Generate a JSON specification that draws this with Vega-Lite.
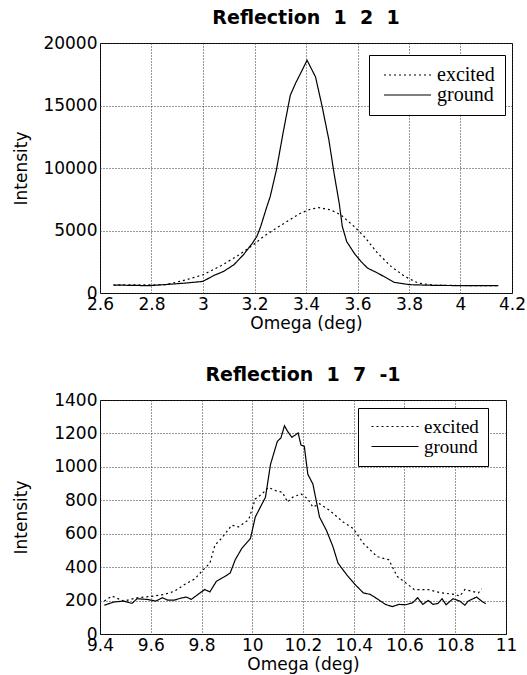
{
  "$schema": "https://vega.github.io/schema/vega-lite/v6.json",
  "background": "white",
  "padding": {"left": 12, "top": 8, "right": 6, "bottom": 2},
  "config": {
    "view": {"stroke": "black", "strokeWidth": 1},
    "font": "DejaVu Sans",
    "axis": {
      "grid": true, "gridColor": "#333", "gridDash": [1, 2], "gridOpacity": 1, "gridWidth": 1,
      "ticks": false, "domain": false, "labelFlush": false, "labelOverlap": false,
      "labelFont": "DejaVu Sans", "labelFontSize": 17, "labelColor": "black", "labelPadding": 3,
      "titleFont": "DejaVu Sans", "titleFontSize": 17, "titleFontWeight": "normal", "titleColor": "black"
    },
    "title": {"font": "DejaVu Sans", "fontSize": 19, "fontWeight": "bold", "color": "black", "offset": 6},
    "concat": {"spacing": 33}
  },
  "datasets": {
    "top": [
      {"omega": 2.652, "intensity": 638, "series": "ground"},
      {"omega": 2.79, "intensity": 585, "series": "ground"},
      {"omega": 2.883, "intensity": 718, "series": "ground"},
      {"omega": 2.935, "intensity": 800, "series": "ground"},
      {"omega": 3.0, "intensity": 930, "series": "ground"},
      {"omega": 3.04, "intensity": 1380, "series": "ground"},
      {"omega": 3.08, "intensity": 1730, "series": "ground"},
      {"omega": 3.12, "intensity": 2260, "series": "ground"},
      {"omega": 3.157, "intensity": 3060, "series": "ground"},
      {"omega": 3.192, "intensity": 3990, "series": "ground"},
      {"omega": 3.209, "intensity": 4520, "series": "ground"},
      {"omega": 3.224, "intensity": 5320, "series": "ground"},
      {"omega": 3.248, "intensity": 6910, "series": "ground"},
      {"omega": 3.261, "intensity": 7710, "series": "ground"},
      {"omega": 3.285, "intensity": 9840, "series": "ground"},
      {"omega": 3.313, "intensity": 13030, "series": "ground"},
      {"omega": 3.339, "intensity": 15820, "series": "ground"},
      {"omega": 3.359, "intensity": 16760, "series": "ground"},
      {"omega": 3.385, "intensity": 17820, "series": "ground"},
      {"omega": 3.404, "intensity": 18620, "series": "ground"},
      {"omega": 3.437, "intensity": 17290, "series": "ground"},
      {"omega": 3.463, "intensity": 14890, "series": "ground"},
      {"omega": 3.489, "intensity": 12230, "series": "ground"},
      {"omega": 3.509, "intensity": 9570, "series": "ground"},
      {"omega": 3.529, "intensity": 7180, "series": "ground"},
      {"omega": 3.541, "intensity": 5320, "series": "ground"},
      {"omega": 3.558, "intensity": 4120, "series": "ground"},
      {"omega": 3.587, "intensity": 3190, "series": "ground"},
      {"omega": 3.613, "intensity": 2530, "series": "ground"},
      {"omega": 3.639, "intensity": 1990, "series": "ground"},
      {"omega": 3.678, "intensity": 1600, "series": "ground"},
      {"omega": 3.743, "intensity": 850, "series": "ground"},
      {"omega": 3.802, "intensity": 665, "series": "ground"},
      {"omega": 3.848, "intensity": 640, "series": "ground"},
      {"omega": 3.9, "intensity": 610, "series": "ground"},
      {"omega": 4.03, "intensity": 585, "series": "ground"},
      {"omega": 4.147, "intensity": 585, "series": "ground"},
      {"omega": 2.652, "intensity": 640, "series": "excited"},
      {"omega": 2.857, "intensity": 665, "series": "excited"},
      {"omega": 2.935, "intensity": 1060, "series": "excited"},
      {"omega": 3.0, "intensity": 1460, "series": "excited"},
      {"omega": 3.065, "intensity": 2130, "series": "excited"},
      {"omega": 3.131, "intensity": 2930, "series": "excited"},
      {"omega": 3.196, "intensity": 3860, "series": "excited"},
      {"omega": 3.235, "intensity": 4520, "series": "excited"},
      {"omega": 3.274, "intensity": 5050, "series": "excited"},
      {"omega": 3.326, "intensity": 5720, "series": "excited"},
      {"omega": 3.378, "intensity": 6380, "series": "excited"},
      {"omega": 3.417, "intensity": 6700, "series": "excited"},
      {"omega": 3.45, "intensity": 6830, "series": "excited"},
      {"omega": 3.496, "intensity": 6650, "series": "excited"},
      {"omega": 3.535, "intensity": 6250, "series": "excited"},
      {"omega": 3.587, "intensity": 5320, "series": "excited"},
      {"omega": 3.626, "intensity": 4520, "series": "excited"},
      {"omega": 3.678, "intensity": 3190, "series": "excited"},
      {"omega": 3.73, "intensity": 2130, "series": "excited"},
      {"omega": 3.783, "intensity": 1330, "series": "excited"},
      {"omega": 3.835, "intensity": 800, "series": "excited"},
      {"omega": 3.9, "intensity": 610, "series": "excited"},
      {"omega": 4.147, "intensity": 585, "series": "excited"}
    ],
    "bottom": [
      {"omega": 9.417, "intensity": 172, "series": "ground"},
      {"omega": 9.453, "intensity": 191, "series": "ground"},
      {"omega": 9.493, "intensity": 197, "series": "ground"},
      {"omega": 9.526, "intensity": 183, "series": "ground"},
      {"omega": 9.546, "intensity": 211, "series": "ground"},
      {"omega": 9.586, "intensity": 207, "series": "ground"},
      {"omega": 9.62, "intensity": 197, "series": "ground"},
      {"omega": 9.646, "intensity": 217, "series": "ground"},
      {"omega": 9.666, "intensity": 203, "series": "ground"},
      {"omega": 9.693, "intensity": 203, "series": "ground"},
      {"omega": 9.72, "intensity": 215, "series": "ground"},
      {"omega": 9.74, "intensity": 221, "series": "ground"},
      {"omega": 9.76, "intensity": 207, "series": "ground"},
      {"omega": 9.786, "intensity": 237, "series": "ground"},
      {"omega": 9.813, "intensity": 266, "series": "ground"},
      {"omega": 9.833, "intensity": 252, "series": "ground"},
      {"omega": 9.859, "intensity": 316, "series": "ground"},
      {"omega": 9.893, "intensity": 345, "series": "ground"},
      {"omega": 9.913, "intensity": 365, "series": "ground"},
      {"omega": 9.933, "intensity": 444, "series": "ground"},
      {"omega": 9.959, "intensity": 513, "series": "ground"},
      {"omega": 9.993, "intensity": 572, "series": "ground"},
      {"omega": 10.012, "intensity": 700, "series": "ground"},
      {"omega": 10.032, "intensity": 759, "series": "ground"},
      {"omega": 10.052, "intensity": 818, "series": "ground"},
      {"omega": 10.072, "intensity": 1015, "series": "ground"},
      {"omega": 10.099, "intensity": 1153, "series": "ground"},
      {"omega": 10.113, "intensity": 1173, "series": "ground"},
      {"omega": 10.127, "intensity": 1246, "series": "ground"},
      {"omega": 10.139, "intensity": 1213, "series": "ground"},
      {"omega": 10.156, "intensity": 1177, "series": "ground"},
      {"omega": 10.172, "intensity": 1193, "series": "ground"},
      {"omega": 10.181, "intensity": 1203, "series": "ground"},
      {"omega": 10.192, "intensity": 1130, "series": "ground"},
      {"omega": 10.205, "intensity": 1124, "series": "ground"},
      {"omega": 10.219, "intensity": 956, "series": "ground"},
      {"omega": 10.239, "intensity": 897, "series": "ground"},
      {"omega": 10.265, "intensity": 700, "series": "ground"},
      {"omega": 10.292, "intensity": 621, "series": "ground"},
      {"omega": 10.318, "intensity": 523, "series": "ground"},
      {"omega": 10.338, "intensity": 424, "series": "ground"},
      {"omega": 10.372, "intensity": 355, "series": "ground"},
      {"omega": 10.405, "intensity": 296, "series": "ground"},
      {"omega": 10.438, "intensity": 246, "series": "ground"},
      {"omega": 10.465, "intensity": 237, "series": "ground"},
      {"omega": 10.492, "intensity": 211, "series": "ground"},
      {"omega": 10.525, "intensity": 177, "series": "ground"},
      {"omega": 10.552, "intensity": 164, "series": "ground"},
      {"omega": 10.578, "intensity": 177, "series": "ground"},
      {"omega": 10.605, "intensity": 175, "series": "ground"},
      {"omega": 10.632, "intensity": 187, "series": "ground"},
      {"omega": 10.652, "intensity": 217, "series": "ground"},
      {"omega": 10.672, "intensity": 177, "series": "ground"},
      {"omega": 10.694, "intensity": 201, "series": "ground"},
      {"omega": 10.712, "intensity": 177, "series": "ground"},
      {"omega": 10.732, "intensity": 183, "series": "ground"},
      {"omega": 10.748, "intensity": 211, "series": "ground"},
      {"omega": 10.764, "intensity": 175, "series": "ground"},
      {"omega": 10.791, "intensity": 211, "series": "ground"},
      {"omega": 10.818, "intensity": 197, "series": "ground"},
      {"omega": 10.838, "intensity": 172, "series": "ground"},
      {"omega": 10.851, "intensity": 197, "series": "ground"},
      {"omega": 10.884, "intensity": 221, "series": "ground"},
      {"omega": 10.904, "intensity": 197, "series": "ground"},
      {"omega": 10.92, "intensity": 181, "series": "ground"},
      {"omega": 9.417, "intensity": 197, "series": "excited"},
      {"omega": 9.447, "intensity": 227, "series": "excited"},
      {"omega": 9.493, "intensity": 197, "series": "excited"},
      {"omega": 9.546, "intensity": 217, "series": "excited"},
      {"omega": 9.613, "intensity": 227, "series": "excited"},
      {"omega": 9.653, "intensity": 237, "series": "excited"},
      {"omega": 9.693, "intensity": 256, "series": "excited"},
      {"omega": 9.733, "intensity": 296, "series": "excited"},
      {"omega": 9.773, "intensity": 329, "series": "excited"},
      {"omega": 9.813, "intensity": 394, "series": "excited"},
      {"omega": 9.833, "intensity": 424, "series": "excited"},
      {"omega": 9.853, "intensity": 532, "series": "excited"},
      {"omega": 9.879, "intensity": 572, "series": "excited"},
      {"omega": 9.919, "intensity": 651, "series": "excited"},
      {"omega": 9.946, "intensity": 641, "series": "excited"},
      {"omega": 9.986, "intensity": 684, "series": "excited"},
      {"omega": 10.012, "intensity": 808, "series": "excited"},
      {"omega": 10.039, "intensity": 838, "series": "excited"},
      {"omega": 10.063, "intensity": 877, "series": "excited"},
      {"omega": 10.092, "intensity": 858, "series": "excited"},
      {"omega": 10.119, "intensity": 848, "series": "excited"},
      {"omega": 10.139, "intensity": 789, "series": "excited"},
      {"omega": 10.159, "intensity": 818, "series": "excited"},
      {"omega": 10.192, "intensity": 838, "series": "excited"},
      {"omega": 10.219, "intensity": 808, "series": "excited"},
      {"omega": 10.239, "intensity": 759, "series": "excited"},
      {"omega": 10.265, "intensity": 779, "series": "excited"},
      {"omega": 10.305, "intensity": 739, "series": "excited"},
      {"omega": 10.358, "intensity": 670, "series": "excited"},
      {"omega": 10.398, "intensity": 631, "series": "excited"},
      {"omega": 10.438, "intensity": 542, "series": "excited"},
      {"omega": 10.492, "intensity": 463, "series": "excited"},
      {"omega": 10.538, "intensity": 444, "series": "excited"},
      {"omega": 10.571, "intensity": 345, "series": "excited"},
      {"omega": 10.605, "intensity": 306, "series": "excited"},
      {"omega": 10.638, "intensity": 266, "series": "excited"},
      {"omega": 10.692, "intensity": 266, "series": "excited"},
      {"omega": 10.745, "intensity": 246, "series": "excited"},
      {"omega": 10.798, "intensity": 237, "series": "excited"},
      {"omega": 10.818, "intensity": 227, "series": "excited"},
      {"omega": 10.838, "intensity": 266, "series": "excited"},
      {"omega": 10.864, "intensity": 256, "series": "excited"},
      {"omega": 10.891, "intensity": 246, "series": "excited"},
      {"omega": 10.904, "intensity": 270, "series": "excited"}
    ]
  },
  "vconcat": [
    {
      "title": "Reflection\u00a0\u00a01\u00a0\u00a02\u00a0\u00a01",
      "width": 412,
      "height": 250,
      "data": {"name": "top"},
      "mark": {"type": "line", "color": "black", "strokeWidth": 1.2},
      "encoding": {
        "x": {"field": "omega", "type": "quantitative", "title": "Omega (deg)",
          "scale": {"domain": [2.6, 4.2], "nice": false, "zero": false},
          "axis": {"values": [2.6, 2.8, 3, 3.2, 3.4, 3.6, 3.8, 4, 4.2], "format": "~g", "titlePadding": 3}},
        "y": {"field": "intensity", "type": "quantitative", "title": "Intensity",
          "scale": {"domain": [0, 20000], "nice": false},
          "axis": {"values": [0, 5000, 10000, 15000, 20000], "format": "d", "titlePadding": 12}},
        "strokeDash": {"field": "series", "type": "nominal",
          "scale": {"domain": ["excited", "ground"], "range": [[2, 3], [1, 0]]},
          "legend": {"title": null, "orient": "none", "legendX": 269, "legendY": 12,
            "strokeColor": "black", "fillColor": "white", "padding": 10,
            "symbolType": "M-1,0H8.4", "symbolSize": 100, "symbolStrokeWidth": 1.2, "symbolStrokeColor": "black",
            "labelFont": "Liberation Serif", "labelFontSize": 20, "labelColor": "black", "labelOffset": 38, "rowPadding": 0}}
      }
    },
    {
      "title": "Reflection\u00a0\u00a01\u00a0\u00a07\u00a0\u00a0-1",
      "width": 406,
      "height": 234,
      "data": {"name": "bottom"},
      "mark": {"type": "line", "color": "black", "strokeWidth": 1.2},
      "encoding": {
        "x": {"field": "omega", "type": "quantitative", "title": "Omega (deg)",
          "scale": {"domain": [9.4, 11], "nice": false, "zero": false},
          "axis": {"values": [9.4, 9.6, 9.8, 10, 10.2, 10.4, 10.6, 10.8, 11], "format": "~g", "titlePadding": 3}},
        "y": {"field": "intensity", "type": "quantitative", "title": "Intensity",
          "scale": {"domain": [0, 1400], "nice": false},
          "axis": {"values": [0, 200, 400, 600, 800, 1000, 1200, 1400], "format": "d", "titlePadding": 23}},
        "strokeDash": {"field": "series", "type": "nominal",
          "scale": {"domain": ["excited", "ground"], "range": [[2, 3], [1, 0]]},
          "legend": {"title": null, "orient": "none", "legendX": 258, "legendY": 8,
            "strokeColor": "black", "fillColor": "white", "padding": 9,
            "symbolType": "M-1,0H8.4", "symbolSize": 100, "symbolStrokeWidth": 1.2, "symbolStrokeColor": "black",
            "labelFont": "Liberation Serif", "labelFontSize": 19, "labelColor": "black", "labelOffset": 38, "rowPadding": 0}}
      }
    }
  ],
  "resolve": {"scale": {"strokeDash": "independent"}, "legend": {"strokeDash": "independent"}}
}
